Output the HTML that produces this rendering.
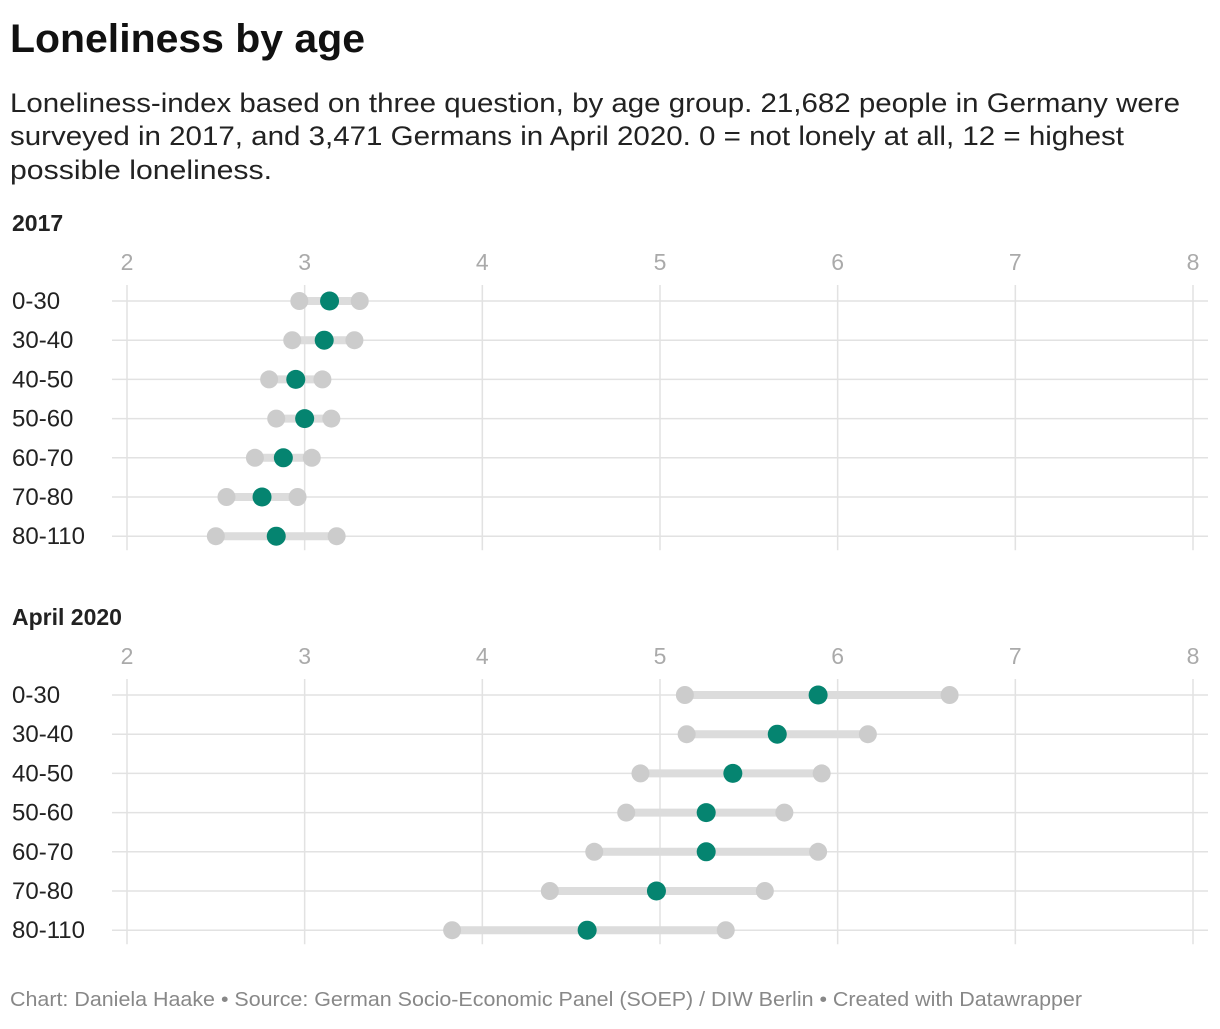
<!DOCTYPE html>
<html><head><meta charset="utf-8">
<style>
body{margin:0;background:#fff;width:1220px;height:1024px;overflow:hidden;font-family:"Liberation Sans",Arial,sans-serif;}
</style></head>
<body>
<svg id="chart" width="1220" height="1024" xmlns="http://www.w3.org/2000/svg">
<text x="10" y="52" font-size="40" font-weight="bold" fill="#111" textLength="355" lengthAdjust="spacingAndGlyphs">Loneliness by age</text>
<g font-size="27" fill="#222">
<text x="10" y="112" textLength="1170" lengthAdjust="spacingAndGlyphs">Loneliness-index based on three question, by age group. 21,682 people in Germany were</text>
<text x="10" y="145" textLength="1114" lengthAdjust="spacingAndGlyphs">surveyed in 2017, and 3,471 Germans in April 2020. 0 = not lonely at all, 12 = highest</text>
<text x="10" y="179" textLength="262" lengthAdjust="spacingAndGlyphs">possible loneliness.</text>
</g>
<text x="10" y="1006" font-size="20" fill="#888" textLength="1072" lengthAdjust="spacingAndGlyphs">Chart: Daniela Haake • Source: German Socio-Economic Panel (SOEP) / DIW Berlin • Created with Datawrapper</text>
</svg>
<script>
const categories=["0-30","30-40","40-50","50-60","60-70","70-80","80-110"];
const ticks=[2,3,4,5,6,7,8];
const low2017=[2.97,2.93,2.80,2.84,2.72,2.56,2.50];
const mid2017=[3.14,3.11,2.95,3.00,2.88,2.76,2.84];
const high2017=[3.31,3.28,3.10,3.15,3.04,2.96,3.18];
const low2020=[5.14,5.15,4.89,4.81,4.63,4.38,3.83];
const mid2020=[5.89,5.66,5.41,5.26,5.26,4.98,4.59];
const high2020=[6.63,6.17,5.91,5.70,5.89,5.59,5.37];
const svg=document.getElementById('chart');
const NS="http://www.w3.org/2000/svg";
function x(v){return 127+(v-2)*(1193-127)/6;}
function mk(tag,attrs,parent){const e=document.createElementNS(NS,tag);for(const k in attrs)e.setAttribute(k,attrs[k]);(parent||svg).appendChild(e);return e;}
function panel(title,top,low,mid,high,key){
  const g=mk('g',{});
  
  
  const t=mk('text',{x:12,y:top,'font-size':23,'font-weight':'bold',fill:'#222'},g);t.textContent=title;
  
  
  const y0=top+70, step=39.2;
  function y(i){return y0+i*step;}
  ticks.forEach(v=>{
    const l=mk('line',{x1:x(v),x2:x(v),y1:y0-16,y2:y(6)+14,stroke:'#e2e2e2','stroke-width':1.5},g);
    
    
    const tt=mk('text',{x:x(v),y:top+39,'font-size':23,fill:'#aaa','text-anchor':'middle'},g);tt.textContent=v;
    
    
  });
  categories.forEach((c,i)=>{
    const gl=mk('line',{x1:112,x2:1208,y1:y(i),y2:y(i),stroke:'#e2e2e2','stroke-width':1.5},g);
    
    
    const lb=mk('text',{x:12,y:y(i)+8,'font-size':24,fill:'#222'},g);lb.textContent=c;
    
    
    const r=mk('line',{x1:x(low[i]),x2:x(high[i]),y1:y(i),y2:y(i),stroke:'#dcdcdc','stroke-width':8},g);
    
    
    [low[i],high[i]].forEach(v=>{
      const d=mk('circle',{cx:x(v),cy:y(i),r:9,fill:'#cccccc'},g);
      
      
    });
    const m=mk('circle',{cx:x(mid[i]),cy:y(i),r:9.5,fill:'#058470'},g);
    
    
  });
}
panel('2017',231,low2017,mid2017,high2017,'2017');
panel('April 2020',625,low2020,mid2020,high2020,'2020');
</script>
</body></html>
